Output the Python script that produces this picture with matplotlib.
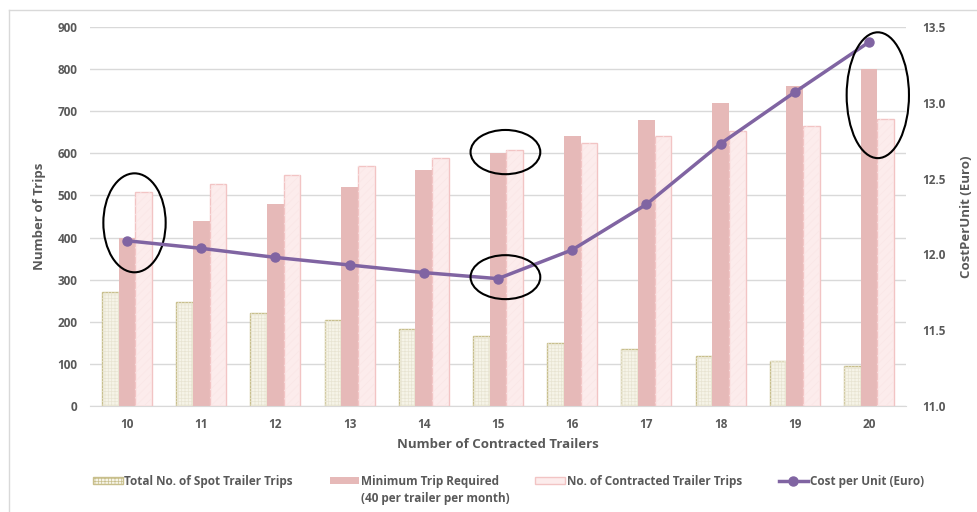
import matplotlib.pyplot as plt
from matplotlib.patches import Ellipse
from matplotlib.lines import Line2D
import numpy as np

plt.rcParams['font.family'] = ['Open Sans', 'DejaVu Sans']
plt.rcParams['hatch.linewidth'] = 0.5

trailers = [10, 11, 12, 13, 14, 15, 16, 17, 18, 19, 20]
spot_trips = [270, 247, 222, 204, 184, 167, 150, 135, 119, 107, 95]
min_trips = [400, 440, 480, 520, 560, 600, 640, 680, 720, 760, 800]
contracted_trips = [507, 528, 548, 570, 590, 608, 625, 641, 653, 666, 682]
cost_per_unit = [12.09, 12.04, 11.98, 11.93, 11.88, 11.84, 12.03, 12.33, 12.73, 13.07, 13.40]

GRAY = '#595959'

fig = plt.figure(figsize=(9.78, 5.12), dpi=100)
ax = fig.add_axes([90 / 978, 1 - 406 / 512, 816 / 978, 379 / 512])

x = np.arange(len(trailers))
w = 0.225

# spot trips: cream with a fine dotted fill
ax.bar(x - w, spot_trips, w, color='#f6f4e8', edgecolor='#c8bf8c', linewidth=1, zorder=2)
ax.bar(x - w, spot_trips, w, color='none', edgecolor='#e8e4d2', hatch='+++++', linewidth=0, zorder=2)
ax.bar(x, min_trips, w, color='#e6b9b8', edgecolor='none', zorder=2)
ax.bar(x + w, contracted_trips, w, color='#fcecec', edgecolor='#f2c4c4', linewidth=1, zorder=2)
ax.bar(x + w, contracted_trips, w, color='none', edgecolor='#fae6e6', hatch='////', linewidth=0, zorder=2)

ax.set_xlim(-0.5, len(trailers) - 0.5)
ax.set_ylim(0, 900)
ax.set_yticks(range(0, 901, 100))
ax.set_xticks(x)
ax.set_xticklabels(trailers)
ax.grid(axis='y', color='#d9d9d9', linewidth=1, zorder=0)
ax.set_axisbelow(True)
for s in ['left', 'right', 'top']:
    ax.spines[s].set_visible(False)
ax.spines['bottom'].set_color('#d9d9d9')
ax.tick_params(length=0, labelsize=8.5, labelcolor=GRAY, pad=9)
for lbl in ax.get_xticklabels() + ax.get_yticklabels():
    lbl.set_fontweight('bold')
ax.set_ylabel('Number of Trips', fontsize=9.5, color=GRAY, fontweight='bold', labelpad=8)
ax.set_xlabel('Number of Contracted Trailers', fontsize=9.5, color=GRAY, fontweight='bold', labelpad=5)

ax2 = ax.twinx()
ax2.plot(x, cost_per_unit, color='#8064a2', linewidth=2.5, marker='o', markersize=6.5, zorder=5)
ax2.set_ylim(11.0, 13.5)
ax2.set_yticks(np.arange(11.0, 13.51, 0.5))
ax2.set_yticklabels([f'{v:.1f}' for v in np.arange(11.0, 13.51, 0.5)])
for s in ['left', 'right', 'top', 'bottom']:
    ax2.spines[s].set_visible(False)
ax2.tick_params(length=0, labelsize=8.5, labelcolor=GRAY, pad=12)
for lbl in ax2.get_yticklabels():
    lbl.set_fontweight('bold')
ax2.set_ylabel('CostPerUnit (Euro)', fontsize=9.5, color=GRAY, fontweight='bold', labelpad=10)

# highlight rings
ell_kw = dict(fill=False, edgecolor='black', linewidth=1.5, zorder=10, clip_on=False)
ax.add_patch(Ellipse((x[0] + 0.1, 435), 0.84, 235, **ell_kw))
ax.add_patch(Ellipse((x[5] + 0.1, 603), 0.94, 105, **ell_kw))
ax2.add_patch(Ellipse((x[5] + 0.1, 11.85), 0.94, 0.29, **ell_kw))
ax2.add_patch(Ellipse((x[10] + 0.12, 13.05), 0.84, 0.83, **ell_kw))

handles = [
    plt.Rectangle((0, 0), 1, 1, facecolor='#f6f4e8', edgecolor='#c8bf8c', hatch='+++++'),
    plt.Rectangle((0, 0), 1, 1, facecolor='#e6b9b8', edgecolor='none'),
    plt.Rectangle((0, 0), 1, 1, facecolor='#fcecec', edgecolor='#f2c4c4'),
    Line2D([], [], color='#8064a2', linewidth=2.5, marker='o', markersize=6.5),
]
labels = ['Total No. of Spot Trailer Trips',
          'Minimum Trip Required',
          'No. of Contracted Trailer Trips',
          'Cost per Unit (Euro)']
leg = fig.legend(handles, labels, loc='center', bbox_to_anchor=(0.52, 1 - 481 / 512), ncol=4,
                 frameon=False, fontsize=8.5, handlelength=2.5, handleheight=0.55,
                 handletextpad=0.15, columnspacing=3.1)
for t in leg.get_texts():
    t.set_color(GRAY)
    t.set_fontweight('bold')

# second line of the minimum-trip entry, under its first line
fig.canvas.draw()
bb = leg.get_texts()[1].get_window_extent().transformed(fig.transFigure.inverted())
fig.text(bb.x0, bb.y0 - 0.008, '(40 per trailer per month)', fontsize=8.5, color=GRAY,
         fontweight='bold', ha='left', va='top')

# chart area border
fig.add_artist(Line2D([9 / 978, 9 / 978], [0, 1 - 10 / 512], color='#d9d9d9', linewidth=1))
fig.add_artist(Line2D([9 / 978, 1], [1 - 10 / 512, 1 - 10 / 512], color='#d9d9d9', linewidth=1))

fig.savefig('out.png', dpi=100, facecolor='white')
